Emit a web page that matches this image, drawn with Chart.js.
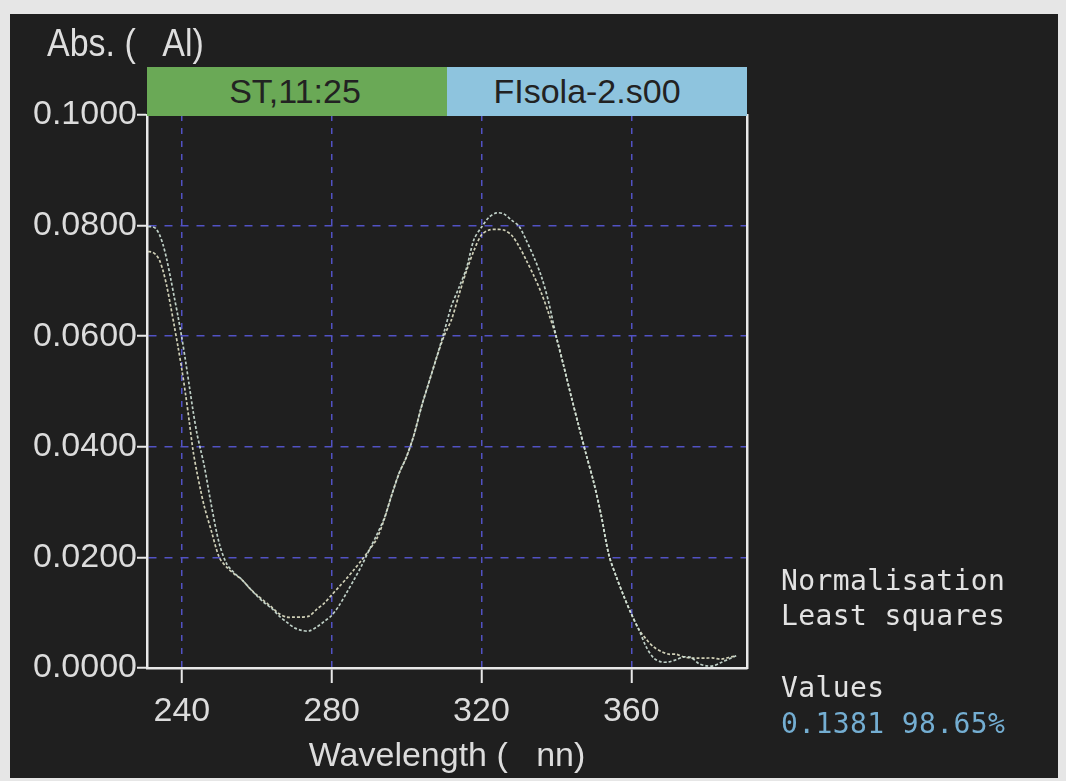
<!DOCTYPE html>
<html>
<head>
<meta charset="utf-8">
<script src="https://cdn.jsdelivr.net/npm/chart.js@4.4.1/dist/chart.umd.min.js"></script>
<style>
  html, body { margin: 0; padding: 0; }
  body { width: 1066px; height: 781px; background: #e6e6e6; position: relative; overflow: hidden; }
  #panel { position: absolute; left: 10px; top: 14px; width: 1048px; height: 764px; background: #1f1f1f; }
  #wrap { position: absolute; left: 0; top: 0; width: 1066px; height: 781px; }
  .sans { font-family: "Liberation Sans", Arial, sans-serif; }
  #ylabel { position: absolute; left: 47px; top: 20px; font-size: 34px; color: #dedede; white-space: pre; line-height: 40px;
            transform: scaleY(1.12); transform-origin: 0 0; }
  .hdr { position: absolute; top: 67px; height: 49px; width: 300px; text-align: center; color: #222; font-size: 34px;
         line-height: 49px; white-space: pre; box-sizing: border-box; }
  #hdrA { left: 147px; background: #6aa956; padding-right: 4px; }
  #hdrB { left: 447px; background: #8ec4de; padding-right: 20px; }
  .side { position: absolute; left: 781px; font-family: "DejaVu Sans Mono", monospace; font-size: 28px; line-height: 28px;
          color: #e2e2e2; white-space: pre; letter-spacing: 0.4px; }
</style>
</head>
<body>
<div id="panel"></div>
<div id="wrap"><canvas id="c" width="1066" height="781"></canvas></div>
<div id="ylabel" class="sans">Abs. (   Al)</div>
<div id="hdrA" class="hdr sans">ST,11:25</div>
<div id="hdrB" class="hdr sans">FIsola-2.s00</div>
<div class="side" style="top:567px">Normalisation</div>
<div class="side" style="top:602px">Least squares</div>
<div class="side" style="top:674px">Values</div>
<div class="side" style="top:710px;color:#74aed2">0.1381 98.65%</div>
<script>
// Wavelength grid (nm) shared by both spectra
const wavelengths = [231, 232, 233, 234, 235, 236, 237, 238, 239, 240, 241, 242, 243, 244, 245, 246, 248, 250,
  252, 254, 256, 258, 260, 262, 264, 266, 268, 270, 272, 274, 276, 278, 280, 282, 284, 286, 288, 290,
  292, 294, 296, 298, 300, 302, 304, 306, 308, 310, 312, 314, 316, 318, 320, 322, 324, 326, 328, 330,
  332, 334, 336, 338, 340, 342, 344, 346, 348, 350, 352, 354, 356, 358, 360, 362, 364, 366, 368, 370,
  372, 374, 376, 378, 380, 382, 384, 386, 388];

// Absorbance of the standard spectrum
const absStandard = [0.0798, 0.0798, 0.0795, 0.0784, 0.0765, 0.0738, 0.0705, 0.0670, 0.0635, 0.0597, 0.0555, 0.0510,
  0.0465, 0.0425, 0.0395, 0.0365, 0.0290, 0.0225, 0.0188, 0.0172, 0.0160, 0.0145, 0.0131, 0.0118, 0.0108, 0.0094,
  0.0083, 0.0073, 0.0068, 0.0067, 0.0074, 0.0084, 0.0095, 0.0113, 0.0136, 0.0160, 0.0185, 0.0213, 0.0240, 0.0270,
  0.0312, 0.0352, 0.0382, 0.0422, 0.0473, 0.0517, 0.0561, 0.0607, 0.0655, 0.0688, 0.0723, 0.0775, 0.0797, 0.0815,
  0.0823, 0.0821, 0.0810, 0.0799, 0.0773, 0.0743, 0.0708, 0.0660, 0.0598, 0.0545, 0.0490, 0.0437, 0.0385, 0.0335,
  0.0275, 0.0205, 0.0165, 0.0130, 0.0098, 0.0070, 0.0038, 0.0018, 0.0011, 0.0011, 0.0015, 0.0020, 0.0019, 0.0008,
  0.0004, 0.0004, 0.0010, 0.0016, 0.0022];

// Absorbance of the sample spectrum (FIsola-2.s00)
const absSample = [0.0753, 0.0752, 0.0748, 0.0738, 0.0718, 0.0690, 0.0655, 0.0618, 0.0580, 0.0540, 0.0495, 0.0445,
  0.0393, 0.0355, 0.0322, 0.0292, 0.0245, 0.0200, 0.0182, 0.0170, 0.0160, 0.0145, 0.0132, 0.0121, 0.0110, 0.0098,
  0.0092, 0.0092, 0.0092, 0.0094, 0.0106, 0.0117, 0.0132, 0.0147, 0.0162, 0.0178, 0.0195, 0.0213, 0.0233, 0.0268,
  0.0312, 0.0352, 0.0382, 0.0422, 0.0473, 0.0517, 0.0561, 0.0600, 0.0630, 0.0675, 0.0718, 0.0755, 0.0783, 0.0792,
  0.0793, 0.0792, 0.0783, 0.0763, 0.0737, 0.0709, 0.0678, 0.0640, 0.0598, 0.0545, 0.0490, 0.0437, 0.0385, 0.0335,
  0.0275, 0.0205, 0.0165, 0.0130, 0.0098, 0.0070, 0.0052, 0.0038, 0.0030, 0.0025, 0.0025, 0.0020, 0.0018, 0.0018,
  0.0018, 0.0018, 0.0016, 0.0019, 0.0022];

const xTickValues = [240, 280, 320, 360];
const yTickValues = [0, 0.02, 0.04, 0.06, 0.08, 0.1];

const toPoints = vals => wavelengths.map((w, i) => ({ x: w, y: vals[i] }));
const labelFont = { family: '"Liberation Sans", Arial, sans-serif', size: 34 };
const textColor = '#dcdcdc';

new Chart(document.getElementById('c'), {
  type: 'line',
  data: {
    datasets: [
      { label: 'ST,11:25', data: toPoints(absStandard), borderColor: 'rgba(205,224,214,0.92)', borderWidth: 1.7,
        borderDash: [3, 2], pointRadius: 0, tension: 0.3, fill: false },
      { label: 'FIsola-2.s00', data: toPoints(absSample), borderColor: 'rgba(224,224,196,0.92)', borderWidth: 1.7,
        borderDash: [3, 2], pointRadius: 0, tension: 0.3, fill: false }
    ]
  },
  options: {
    responsive: false,
    animation: false,
    layout: { padding: { left: 0, top: 115, right: 319, bottom: 0 } },
    plugins: { legend: { display: false }, tooltip: { enabled: false } },
    scales: {
      x: {
        type: 'linear', min: 230.7, max: 390.9,
        afterBuildTicks: s => { s.ticks = xTickValues.map(v => ({ value: v })); },
        afterFit: s => { s.height = 113; },
        grid: { color: '#5252c4', lineWidth: 1.5, drawTicks: true, tickLength: 15, tickColor: '#e8e8e8', tickWidth: 2 },
        border: { display: true, color: '#e8e8e8', width: 2.5, dash: [6, 7] },
        ticks: { color: textColor, font: labelFont, padding: 8, maxRotation: 0 },
        title: { display: true, text: 'Wavelength (   nn)', color: textColor, font: labelFont, padding: { top: 0, bottom: 4 } }
      },
      y: {
        type: 'linear', min: 0, max: 0.1,
        afterBuildTicks: s => { s.ticks = yTickValues.map(v => ({ value: v })); },
        afterFit: s => { s.width = 147; },
        grid: { color: '#5252c4', lineWidth: 1.5, drawTicks: true, tickLength: 10, tickColor: '#e8e8e8', tickWidth: 2 },
        border: { display: true, color: '#e8e8e8', width: 2.5, dash: [8, 8] },
        ticks: { color: textColor, font: labelFont, padding: 0, callback: v => v.toFixed(4) }
      },
      yRight: {
        type: 'linear', position: 'right', min: 0, max: 0.1,
        afterFit: s => { s.width = 0; },
        grid: { display: false, drawTicks: false },
        border: { display: true, color: '#e8e8e8', width: 2.5 },
        ticks: { display: false }
      }
    }
  }
});
</script>
</body>
</html>
